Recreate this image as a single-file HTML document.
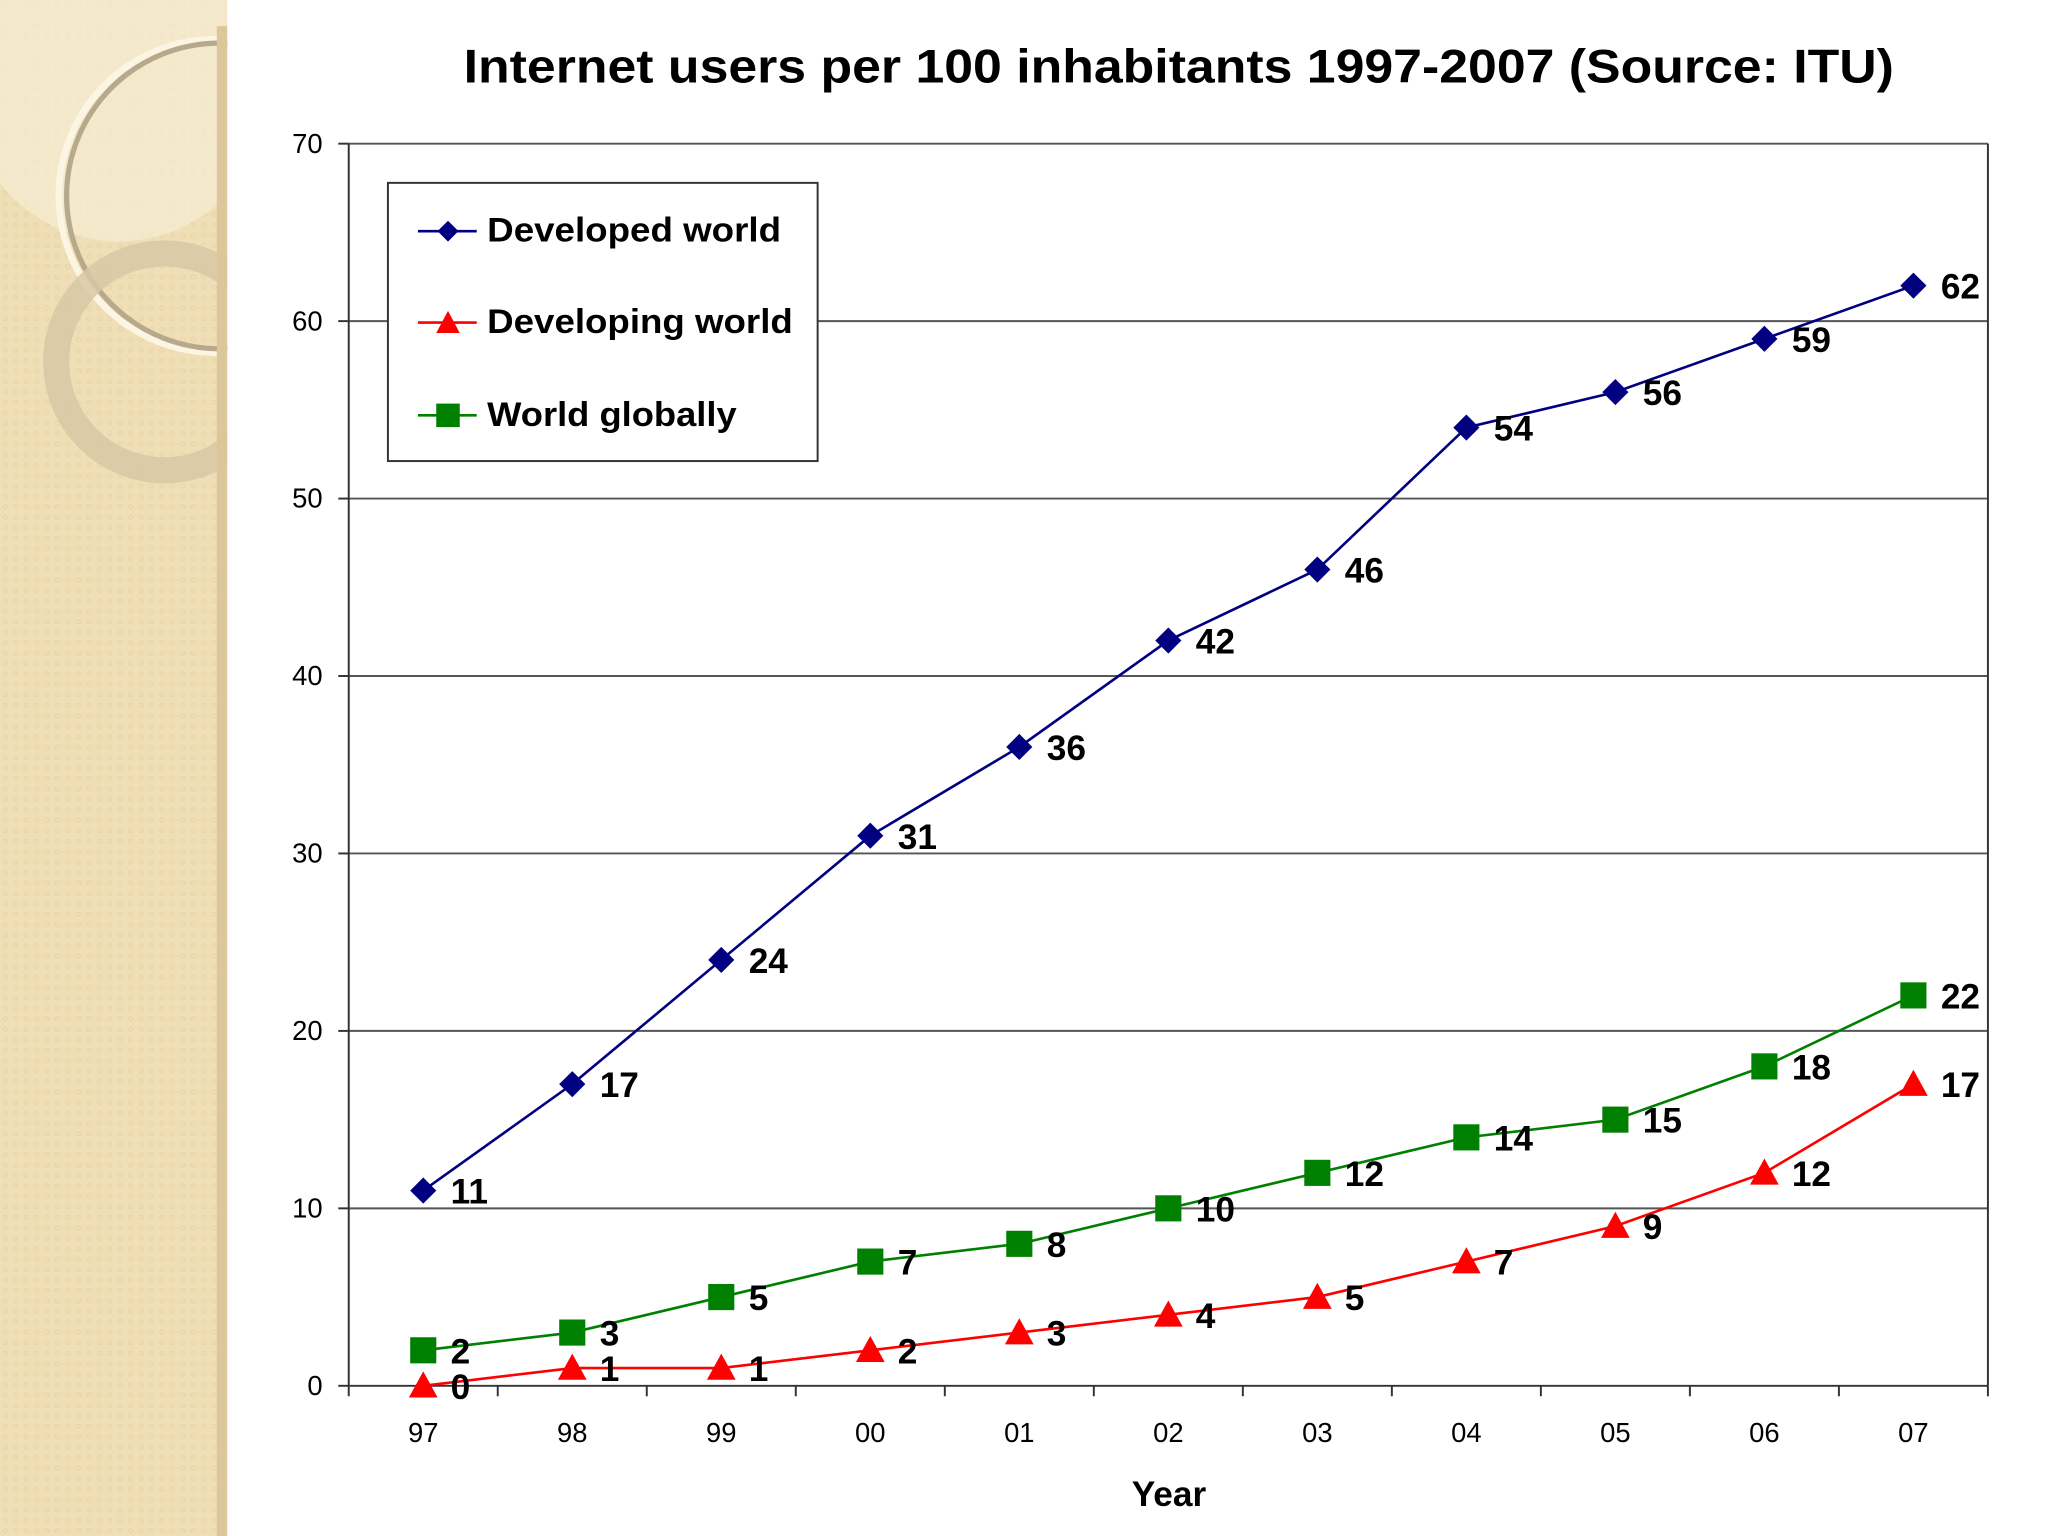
<!DOCTYPE html>
<html><head><meta charset="utf-8"><style>
html,body{margin:0;padding:0;background:#fff}
svg{display:block}
text{font-family:"Liberation Sans",Arial,sans-serif}
</style></head><body>
<svg id="chart" width="2048" height="1536" viewBox="0 0 1568 1176" xmlns="http://www.w3.org/2000/svg">
<defs>
<pattern id="dots" width="8" height="8" patternUnits="userSpaceOnUse"><rect width="8" height="8" fill="#f0dfb6"/><circle cx="4" cy="4" r="1.6" fill="none" stroke="#e6d2a2" stroke-width="0.7"/></pattern>
<clipPath id="sideclip"><rect x="0" y="0" width="174" height="1176"/></clipPath>
</defs>
<g clip-path="url(#sideclip)">
<rect x="0" y="0" width="174" height="1176" fill="url(#dots)"/>
<path d="M0 0 H182 A100 100 0 0 1 0 140 Z" fill="#f6ecd6" opacity="0.7"/>
<circle cx="165" cy="150" r="120" fill="none" stroke="#fcf5e4" stroke-width="5"/>
<circle cx="168" cy="150" r="117" fill="none" stroke="#b8a98c" stroke-width="4"/>
<circle cx="126" cy="277" r="83" fill="none" stroke="#d8c8a4" stroke-width="20" opacity="0.85"/>
<rect x="166" y="20" width="8" height="1156" fill="#dcc79c"/>
</g>
<text x="355" y="63" textLength="1095" lengthAdjust="spacingAndGlyphs" font-size="36" font-weight="bold" fill="#000">Internet users per 100 inhabitants 1997-2007 (Source: ITU)</text>
<g id="grid"></g>
<g id="axes"></g>
<g id="series"></g>
<g>
<rect x="297" y="140" width="329" height="213" fill="#fff" stroke="#333" stroke-width="1.5"/>
<g>
<line x1="320" y1="177" x2="365" y2="177" stroke="#000080" stroke-width="2"/>
<path d="M343 169 L351 177 L343 185 L335 177 Z" fill="#000080"/>
<text x="373" y="185" font-size="26" font-weight="bold" textLength="225" lengthAdjust="spacingAndGlyphs">Developed world</text></g>
<g>
<line x1="320" y1="247" x2="365" y2="247" stroke="#ff0000" stroke-width="2"/>
<path d="M343 238 L352 255 L334 255 Z" fill="#ff0000"/>
<text x="373" y="255" font-size="26" font-weight="bold" textLength="234" lengthAdjust="spacingAndGlyphs">Developing world</text></g>
<g>
<line x1="320" y1="318" x2="365" y2="318" stroke="#008000" stroke-width="2"/>
<rect x="334" y="309" width="18" height="18" fill="#008000"/>
<text x="373" y="326" font-size="26" font-weight="bold" textLength="191" lengthAdjust="spacingAndGlyphs">World globally</text></g>
</g>
<text x="895" y="1153" text-anchor="middle" font-size="27" font-weight="bold">Year</text>
</svg>
<script>
const categories = ["97","98","99","00","01","02","03","04","05","06","07"];
const developed = [11,17,24,31,36,42,46,54,56,59,62];
const developing = [0,1,1,2,3,4,5,7,9,12,17];
const worldGlobal = [2,3,5,7,8,10,12,14,15,18,22];
const yTicks = [0,10,20,30,40,50,60,70];

const NS = "http://www.w3.org/2000/svg";
const L = 267, R = 1522, T = 110, B = 1061, YMAX = 70;
const yS = v => B - (v / YMAX) * (B - T);
const step = (R - L) / categories.length;
const xS = i => L + step * (i + 0.5);
function mk(tag, attrs, parent) { const e = document.createElementNS(NS, tag); for (const k in attrs) e.setAttribute(k, attrs[k]); parent.appendChild(e); return e; }

const grid = document.getElementById('grid'), axes = document.getElementById('axes'), ser = document.getElementById('series');
yTicks.forEach(v => {
  const y = yS(v);
  if (v > 0) { const g = mk('line', {x1: L, x2: R, y1: y, y2: y, stroke: '#555', 'stroke-width': 1.5}, grid);
    
     }
  mk('line', {x1: L - 8, x2: L, y1: y, y2: y, stroke: '#333', 'stroke-width': 1.5}, axes);
  const t = mk('text', {x: L - 20, y: y + 7, 'text-anchor': 'end', 'font-size': 21}, axes);
  t.textContent = v;
  
  
});
mk('line', {x1: L, x2: L, y1: T, y2: B, stroke: '#333', 'stroke-width': 1.5}, axes);
mk('line', {x1: R, x2: R, y1: T, y2: B, stroke: '#333', 'stroke-width': 1.5}, axes);
mk('line', {x1: L, x2: R, y1: B, y2: B, stroke: '#333', 'stroke-width': 1.5}, axes);
for (let i = 0; i <= categories.length; i++) mk('line', {x1: L + step * i, x2: L + step * i, y1: B, y2: B + 8, stroke: '#333', 'stroke-width': 1.5}, axes);
categories.forEach((c, i) => {
  const t = mk('text', {x: xS(i), y: B + 43, 'text-anchor': 'middle', 'font-size': 21}, axes);
  t.textContent = c;
  
  
});

function drawSeries(vals, color, shape, name) {
  const g = mk('g', {}, ser);
  
  
  mk('polyline', {points: vals.map((v, i) => xS(i) + ',' + yS(v)).join(' '), fill: 'none', stroke: color, 'stroke-width': 2}, g);
  vals.forEach((v, i) => {
    const x = xS(i), y = yS(v);
    let m;
    if (shape === 'diamond') m = mk('path', {d: `M${x} ${y-10} L${x+10} ${y} L${x} ${y+10} L${x-10} ${y} Z`, fill: color}, g);
    else if (shape === 'tri') m = mk('path', {d: `M${x} ${y-11} L${x+11} ${y+9} L${x-11} ${y+9} Z`, fill: color}, g);
    else m = mk('rect', {x: x - 10, y: y - 10, width: 20, height: 20, fill: color}, g);
    
    
    const t = mk('text', {x: x + 21, y: y + 10, 'font-size': 27, 'font-weight': 'bold'}, g);
    t.textContent = v;
    
    
  });
}
drawSeries(worldGlobal, '#008000', 'square', 'world-globally-series');
drawSeries(developing, '#ff0000', 'tri', 'developing-world-series');
drawSeries(developed, '#000080', 'diamond', 'developed-world-series');
</script>
</body></html>
